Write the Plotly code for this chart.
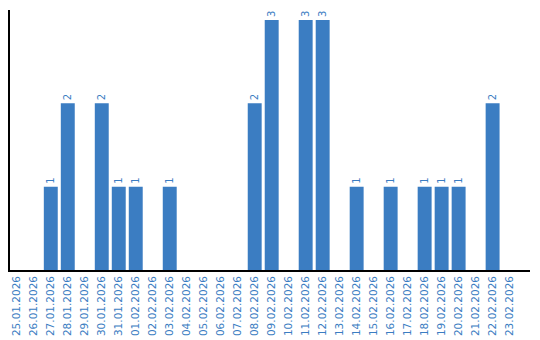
import plotly.graph_objects as go

dates = ["25.01.2026","26.01.2026","27.01.2026","28.01.2026","29.01.2026","30.01.2026",
         "31.01.2026","01.02.2026","02.02.2026","03.02.2026","04.02.2026","05.02.2026",
         "06.02.2026","07.02.2026","08.02.2026","09.02.2026","10.02.2026","11.02.2026",
         "12.02.2026","13.02.2026","14.02.2026","15.02.2026","16.02.2026","17.02.2026",
         "18.02.2026","19.02.2026","20.02.2026","21.02.2026","22.02.2026","23.02.2026"]
values = [0,0,1,2,0,2,1,1,0,1,0,0,0,0,2,3,0,3,3,0,1,0,1,0,1,1,1,0,2,0]

idx = list(range(len(dates)))
labels = [str(v) if v > 0 else "" for v in values]

blue = "#3b7dc2"
fig = go.Figure(go.Bar(
    x=idx, y=values, marker_color=blue, marker_line_width=0,
    text=labels, textposition="outside", textangle=-90,
    textfont=dict(color=blue, size=10, family="DejaVu Sans"),
    cliponaxis=False,
))
fig.update_layout(
    width=540, height=340, margin=dict(l=10, r=10, t=10, b=70, autoexpand=False),
    plot_bgcolor="white", paper_bgcolor="white", bargap=0.18,
    showlegend=False,
    xaxis=dict(range=[-0.4, 30.2], tickmode="array", tickvals=idx, ticktext=dates,
               tickangle=-90, tickfont=dict(color=blue, size=10.5, family="DejaVu Sans"),
               showline=True, linecolor="black", linewidth=1.5, showgrid=False,
               ticks="", zeroline=False, automargin=False),
    yaxis=dict(range=[0, 3.12], showticklabels=False, showgrid=False, zeroline=False,
               showline=True, linecolor="black", linewidth=1.5, ticks="", automargin=False),
)
fig.write_html("out.html")
